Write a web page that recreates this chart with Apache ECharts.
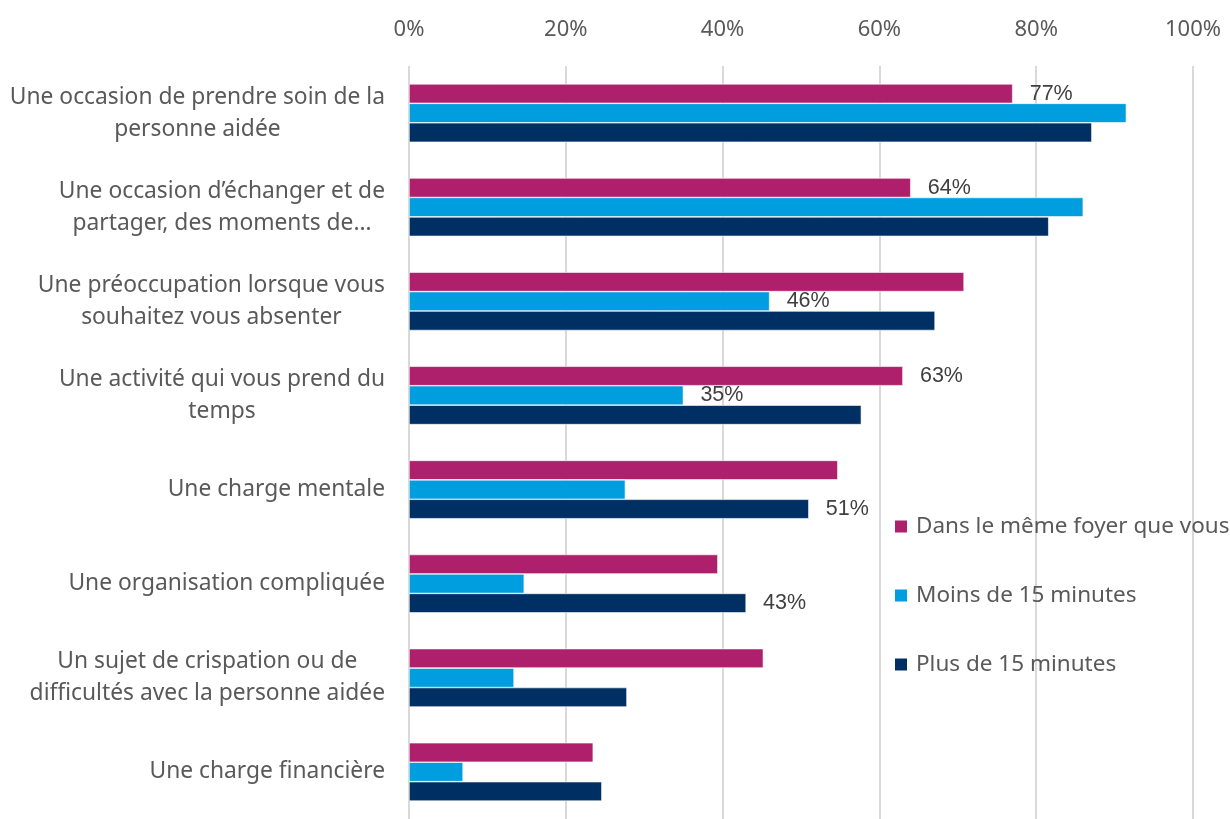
<!DOCTYPE html>
<html>
<head>
<meta charset="utf-8">
<script src="https://cdn.jsdelivr.net/npm/echarts@6/dist/echarts.min.js"></script>
<style>
  html, body { margin: 0; padding: 0; background: #ffffff; }
  #chart { width: 1230px; height: 819px; }
</style>
</head>
<body>
<div id="chart"></div>
<script>
// Categories (top to bottom), with manual line breaks
const categories = [
  "Une occasion de prendre soin de la\npersonne aidée",
  "Une occasion d’échanger et de\npartager, des moments de…",
  "Une préoccupation lorsque vous\nsouhaitez vous absenter",
  "Une activité qui vous prend du\ntemps",
  "Une charge mentale",
  "Une organisation compliquée",
  "Un sujet de crispation ou de\ndifficultés avec la personne aidée",
  "Une charge financière"
];

const seriesNames = [
  "Dans le même foyer que vous",
  "Moins de 15 minutes",
  "Plus de 15 minutes"
];

// Percentages per series
const sameHome = [77, 64, 70.8, 63, 54.7, 39.4, 45.2, 23.5];
const under15 = [91.5, 86.0, 46, 35, 27.6, 14.7, 13.4, 6.9];
const over15 = [87.1, 81.6, 67.1, 57.7, 51, 43, 27.8, 24.6];

// Indices of bars that carry a value label
const sameHomeLabelled = [0, 1, 3];
const under15Labelled = [2, 3];
const over15Labelled = [4, 5];

const colors = ["#ae206b", "#009ddf", "#003063"];

function withLabels(values, labelled) {
  return values.map((v, i) => ({
    value: v,
    label: { show: labelled.indexOf(i) !== -1 }
  }));
}

function barSeries(name, values, labelled, color) {
  return {
    name: name,
    type: "bar",
    barGap: "0%",
    barCategoryGap: "38%",
    itemStyle: { color: color, borderColor: "#ffffff", borderWidth: 0.6 },
    label: {
      show: false,
      position: "right",
      distance: 17,
      formatter: (p) => Math.round(p.value) + "%",
      fontFamily: "Liberation Sans",
      fontSize: 21.5,
      color: "#404040"
    },
    data: withLabels(values, labelled)
  };
}

const chart = echarts.init(document.getElementById("chart"), null, { renderer: "canvas" });

chart.setOption({
  animation: false,
  backgroundColor: "#ffffff",
  grid: { left: 409, right: 37, top: 66, bottom: -6, containLabel: false },
  legend: {
    orient: "vertical",
    left: 888,
    top: 510,
    itemWidth: 14,
    itemHeight: 14,
    itemGap: 46,
    icon: "rect",
    textStyle: {
      fontFamily: "Noto Sans",
      fontSize: 22.5,
      color: "#595959",
      padding: [0, 0, 0, 3]
    },
    data: seriesNames
  },
  xAxis: {
    type: "value",
    position: "top",
    min: 0,
    max: 100,
    interval: 20,
    axisLine: { show: false },
    axisTick: { show: false },
    axisLabel: {
      formatter: "{value}%",
      fontFamily: "Noto Sans",
      fontSize: 22,
      color: "#595959",
      margin: 25
    },
    splitLine: { lineStyle: { color: "#d9d9d9", width: 2 } }
  },
  yAxis: {
    type: "category",
    inverse: true,
    data: categories,
    axisLine: { show: false },
    axisTick: { show: false },
    axisLabel: {
      margin: 24,
      align: "right",
      formatter: (v) => v.split("\n").map((l) => "{c|" + l + "}").join("\n"),
      rich: {
        c: {
          align: "center",
          fontFamily: "Noto Sans",
          fontSize: 22.8,
          lineHeight: 32,
          color: "#595959"
        }
      }
    }
  },
  series: [
    barSeries(seriesNames[0], sameHome, sameHomeLabelled, colors[0]),
    barSeries(seriesNames[1], under15, under15Labelled, colors[1]),
    barSeries(seriesNames[2], over15, over15Labelled, colors[2])
  ]
});
</script>
</body>
</html>
